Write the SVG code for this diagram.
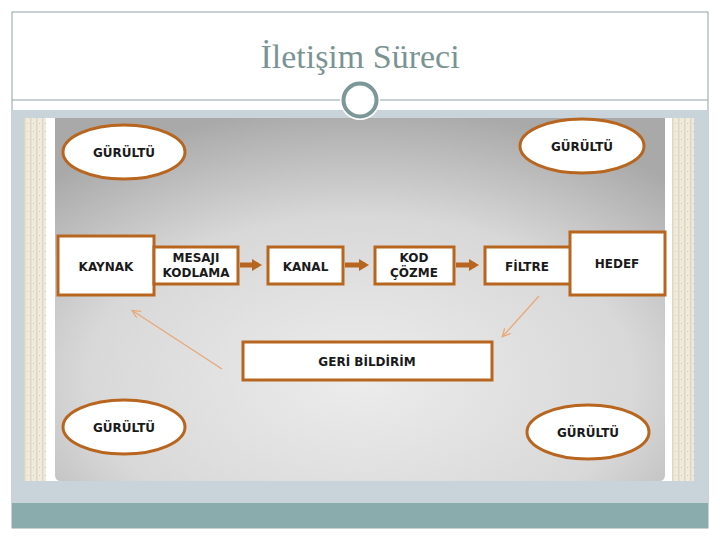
<svg xmlns="http://www.w3.org/2000/svg" width="720" height="540" viewBox="0 0 720 540">
<style>
.box{fill:#fff;stroke:#b8661f;stroke-width:3}
.ell{fill:#fff;stroke:#b8661f;stroke-width:3}
.lbl{font-family:"DejaVu Sans",sans-serif;font-weight:bold;font-size:12px;fill:#1a1a1a;text-anchor:middle}
.thick{stroke:#b8661f;stroke-width:5;fill:none}
.thin{stroke:#e8a878;stroke-width:1.3;fill:none}
</style>
<defs>
<radialGradient id="bg" cx="0.5" cy="0.72" r="0.75">
<stop offset="0" stop-color="#ececec"/>
<stop offset="0.6" stop-color="#d8d8d8"/>
<stop offset="1" stop-color="#a9a9a9"/>
</radialGradient>
<pattern id="stripe" width="6" height="8" patternUnits="userSpaceOnUse">
<rect width="6" height="8" fill="#efeadb"/>
<rect x="0" width="1.5" height="8" fill="#ddd6c2"/>
<rect x="3" y="3" width="1" height="1" fill="#cfc7b0"/>
</pattern>
<marker id="ah" markerWidth="10" markerHeight="10" refX="7" refY="4" orient="auto" markerUnits="userSpaceOnUse">
<path d="M0,0 L8,4 L0,8" fill="none" stroke="#e8a878" stroke-width="1.3"/>
</marker>
<marker id="ahk" markerWidth="12" markerHeight="12" refX="6" refY="6" orient="auto" markerUnits="userSpaceOnUse">
<path d="M0,0 L10,6 L0,12 Z" fill="#b8661f"/>
</marker>
</defs>
<rect width="720" height="540" fill="#fff"/>
<rect x="12" y="12" width="696" height="516" fill="#fff" stroke="#8fa3a3" stroke-width="1"/>
<text x="360" y="68" font-family="Liberation Serif,serif" font-size="34" fill="#7b9393" text-anchor="middle">İletişim Süreci</text>
<line x1="12" y1="100" x2="708" y2="100" stroke="#8fa3a3" stroke-width="1"/>
<rect x="12" y="110" width="696" height="393" fill="#c8d4da"/>
<rect x="12" y="503" width="696" height="25" fill="#8aacac"/>
<rect x="24" y="118" width="670" height="363" fill="#fff"/>
<rect x="24" y="118" width="22" height="363" fill="url(#stripe)"/>
<rect x="672" y="118" width="22" height="363" fill="url(#stripe)"/>
<path d="M55,118 H665 V475 Q665,481 659,481 H61 Q55,481 55,475 Z" fill="url(#bg)"/>
<circle cx="360" cy="100" r="20" fill="#fff"/>
<circle cx="360" cy="100" r="16.500" fill="#fff" stroke="#7b9797" stroke-width="4"/>

<g id="connectors">
<line class="thick" x1="240" y1="265" x2="258" y2="265" marker-end="url(#ahk)"/>
<line class="thick" x1="345" y1="265" x2="365" y2="265" marker-end="url(#ahk)"/>
<line class="thick" x1="456" y1="265" x2="475" y2="265" marker-end="url(#ahk)"/>
<line class="thin" x1="222" y1="369" x2="133" y2="311" marker-end="url(#ah)"/>
<line class="thin" x1="539" y1="296" x2="503" y2="336" marker-end="url(#ah)"/>
</g>

<g id="noise-tl"><ellipse class="ell" cx="124" cy="152" rx="61" ry="27"/><text class="lbl" x="124" y="157">GÜRÜLTÜ</text></g>
<g id="noise-tr"><ellipse class="ell" cx="582" cy="146" rx="62" ry="27"/><text class="lbl" x="582" y="151">GÜRÜLTÜ</text></g>
<g id="noise-bl"><ellipse class="ell" cx="124" cy="427" rx="61" ry="27"/><text class="lbl" x="124" y="432">GÜRÜLTÜ</text></g>
<g id="noise-br"><ellipse class="ell" cx="588" cy="432" rx="61" ry="27"/><text class="lbl" x="588" y="437">GÜRÜLTÜ</text></g>

<g id="kaynak"><rect class="box" x="58" y="236" width="96" height="59"/><text class="lbl" x="106" y="271">KAYNAK</text></g>
<g id="mesaj"><rect class="box" x="154" y="247" width="84" height="37"/><text class="lbl" x="196" y="262">MESAJI</text><text class="lbl" x="196" y="277">KODLAMA</text></g>
<g id="kanal"><rect class="box" x="268" y="247" width="75" height="37"/><text class="lbl" x="305.500" y="271">KANAL</text></g>
<g id="kod"><rect class="box" x="375" y="247" width="79" height="37"/><text class="lbl" x="414" y="262">KOD</text><text class="lbl" x="414" y="277">ÇÖZME</text></g>
<g id="filtre"><rect class="box" x="485" y="247" width="87" height="37"/><text class="lbl" x="527" y="271">FİLTRE</text></g>
<g id="hedef"><rect class="box" x="570" y="232" width="95" height="63"/><text class="lbl" x="617" y="268">HEDEF</text></g>
<g id="geri"><rect class="box" x="243" y="342" width="249" height="38"/><text class="lbl" x="367" y="366">GERİ BİLDİRİM</text></g>
</svg>
